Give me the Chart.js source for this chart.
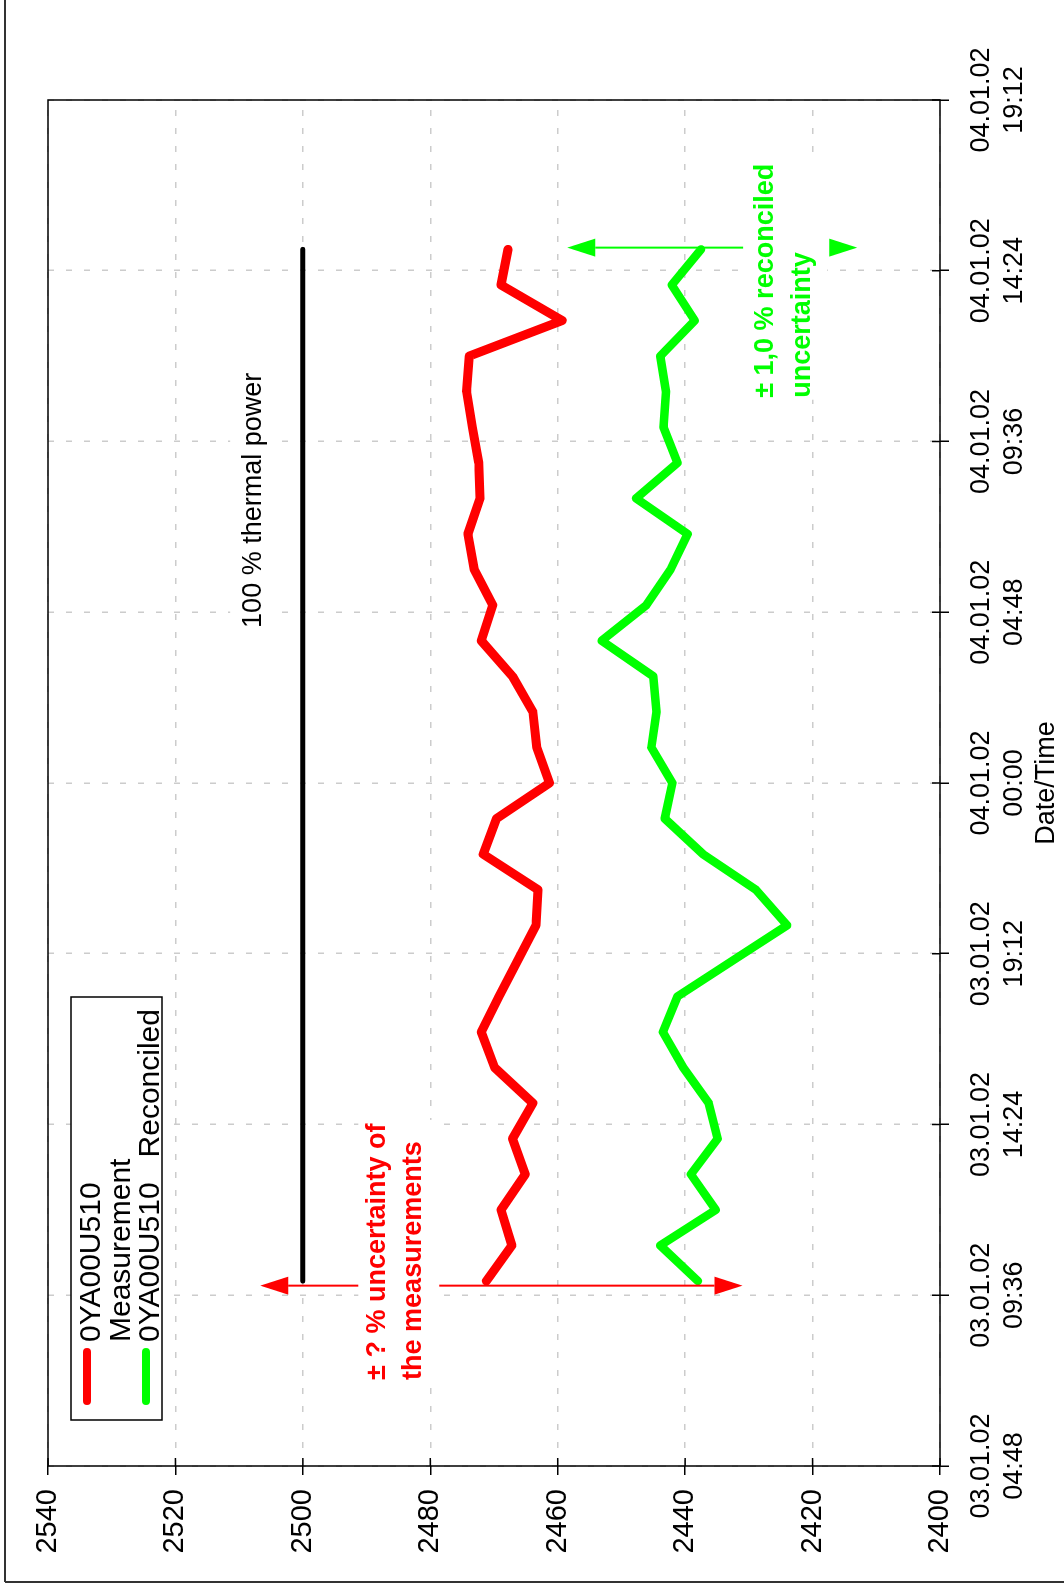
<!DOCTYPE html>
<html>
<head>
<meta charset="utf-8">
<script src="https://cdn.jsdelivr.net/npm/chart.js@4.4.1/dist/chart.umd.min.js"></script>
<style>
html, body { margin: 0; padding: 0; background: #fff; overflow: hidden; width: 1064px; height: 1590px; }
#wrap { position: absolute; left: 0; top: 0; width: 1590px; height: 1064px;
  transform-origin: 0 0; transform: translate(0, 1590px) rotate(-90deg); }
</style>
</head>
<body>
<div id="wrap"><canvas id="power-chart" width="1590" height="1064"></canvas></div>
<script>
// hourly samples 03.01.02 10:00 .. 04.01.02 15:00
var sampleTimes = [
  "03.01 10:00", "03.01 11:00", "03.01 12:00", "03.01 13:00", "03.01 14:00",
  "03.01 15:00", "03.01 16:00", "03.01 17:00", "03.01 18:00", "03.01 19:00",
  "03.01 20:00", "03.01 21:00", "03.01 22:00", "03.01 23:00", "04.01 00:00",
  "04.01 01:00", "04.01 02:00", "04.01 03:00", "04.01 04:00", "04.01 05:00",
  "04.01 06:00", "04.01 07:00", "04.01 08:00", "04.01 09:00", "04.01 10:00",
  "04.01 11:00", "04.01 12:00", "04.01 13:00", "04.01 14:00", "04.01 15:00"
];
var measured = [
  2471.2, 2467.2, 2468.9, 2465.1, 2467.1, 2463.9, 2469.9, 2472.0, 2469.2, 2466.3,
  2463.4, 2463.1, 2471.7, 2469.6, 2461.3, 2463.3, 2463.9, 2467.1, 2472.0, 2470.2,
  2473.1, 2474.1, 2472.2, 2472.4, 2473.4, 2474.3, 2473.9, 2459.3, 2468.9, 2467.8
];
var reconciled = [
  2438.0, 2443.9, 2435.2, 2439.1, 2434.9, 2436.3, 2440.3, 2443.5, 2441.2, 2432.6,
  2424.0, 2428.9, 2437.2, 2443.2, 2442.0, 2445.3, 2444.5, 2445.0, 2453.1, 2446.1,
  2442.3, 2439.6, 2447.7, 2441.2, 2443.4, 2443.0, 2443.9, 2438.5, 2442.1, 2437.5
];
var thermalTimes = ["03.01 10:00", "04.01 15:00"];
var thermalValues = [2500, 2500];

var tickDates = ["03.01.02", "03.01.02", "03.01.02", "03.01.02", "04.01.02", "04.01.02", "04.01.02", "04.01.02", "04.01.02"];
var tickTimes = ["04:48", "09:36", "14:24", "19:12", "00:00", "04:48", "09:36", "14:24", "19:12"];
var valueTicks = [2400, 2420, 2440, 2460, 2480, 2500, 2520, 2540];

// hours since 03.01.02 04:48
function toHours(s) {
  var day = parseInt(s.slice(0, 2), 10);
  var hh = parseInt(s.slice(6, 8), 10), mm = parseInt(s.slice(9, 11), 10);
  return (day - 3) * 24 + hh + mm / 60 - 4.8;
}
function pts(times, vals) {
  return times.map(function (t, i) { return { x: toHours(t), y: vals[i] }; });
}
var tickHours = tickTimes.map(function (t, i) { return toHours(tickDates[i].slice(0, 5) + " " + t); });

var FONT = "'Liberation Sans', Arial, sans-serif";
Chart.defaults.font.family = FONT;
Chart.defaults.color = "#000";

function line(ctx, x1, y1, x2, y2) {
  ctx.beginPath(); ctx.moveTo(x1, y1); ctx.lineTo(x2, y2); ctx.stroke();
}
function head(ctx, x, tipY, dir) { // vertical arrow head, dir -1 = up
  ctx.beginPath();
  ctx.moveTo(x, tipY);
  ctx.lineTo(x - 9, tipY - dir * 28);
  ctx.lineTo(x + 9, tipY - dir * 28);
  ctx.closePath(); ctx.fill();
}

var extras = {
  id: "extras",
  afterDraw: function (chart) {
    var ctx = chart.ctx, a = chart.chartArea;
    var xs = chart.scales.x, ys = chart.scales.y;
    ctx.save();
    ctx.setLineDash([]);

    // plot frame + inner ticks
    ctx.strokeStyle = "#000"; ctx.lineWidth = 1.5;
    ctx.strokeRect(a.left, a.top, a.right - a.left, a.bottom - a.top);
    tickHours.forEach(function (h) { var p = xs.getPixelForValue(h); line(ctx, p, a.bottom, p, a.bottom - 8); });
    valueTicks.forEach(function (v) { var p = ys.getPixelForValue(v); line(ctx, a.left, p, a.left + 8, p); });

    // outer frame
    ctx.strokeStyle = "#333"; ctx.lineWidth = 2;
    line(ctx, 8, 5, 8, 1064);
    line(ctx, 8, 5, 1590, 5);

    // red uncertainty arrow
    var rx = xs.getPixelForValue(5.07);
    var rTop = ys.getPixelForValue(2506.7), rBot = ys.getPixelForValue(2431.0);
    ctx.fillStyle = "#fff";
    ctx.fillRect(xs.getPixelForValue(2.42) - 2, ys.getPixelForValue(2491.3), 262, ys.getPixelForValue(2478.6) - ys.getPixelForValue(2491.3));
    ctx.strokeStyle = "#ff0000"; ctx.fillStyle = "#ff0000"; ctx.lineWidth = 2;
    line(ctx, rx, rTop + 28, rx, ys.getPixelForValue(2491.3));
    line(ctx, rx, ys.getPixelForValue(2478.6), rx, rBot - 28);
    head(ctx, rx, rTop, -1);
    head(ctx, rx, rBot, 1);
    ctx.font = "bold 27px " + FONT;
    ctx.textAlign = "left"; ctx.textBaseline = "middle";
    ctx.fillText("\u00b1 ? % uncertainty of", xs.getPixelForValue(2.42), ys.getPixelForValue(2488.2));
    ctx.fillText("the measurements", xs.getPixelForValue(2.42), ys.getPixelForValue(2482.7));

    // green uncertainty arrow
    var gx = xs.getPixelForValue(34.25);
    var gTop = ys.getPixelForValue(2458.5), gBot = ys.getPixelForValue(2413.0);
    ctx.fillStyle = "#fff";
    ctx.fillRect(xs.getPixelForValue(30.03) - 2, ys.getPixelForValue(2430.9), 240, ys.getPixelForValue(2417.7) - ys.getPixelForValue(2430.9));
    ctx.strokeStyle = "#00ff00"; ctx.fillStyle = "#00ff00"; ctx.lineWidth = 2;
    line(ctx, gx, gTop + 28, gx, ys.getPixelForValue(2430.9));
    head(ctx, gx, gTop, -1);
    head(ctx, gx, gBot, 1);
    ctx.fillText("\u00b1 1,0 % reconciled", xs.getPixelForValue(30.03), ys.getPixelForValue(2427.4));
    ctx.fillText("uncertainty", xs.getPixelForValue(30.03), ys.getPixelForValue(2421.6));

    // thermal power label
    ctx.font = "27px " + FONT;
    var tx = xs.getPixelForValue(23.56), ty = ys.getPixelForValue(2507.8);
    ctx.fillStyle = "#fff";
    ctx.fillRect(tx - 4, ty - 23, 268, 46);
    ctx.fillStyle = "#000";
    ctx.fillText("100 % thermal power", tx, ty);

    // legend box
    ctx.fillStyle = "#fff"; ctx.fillRect(170, 71, 423, 91);
    ctx.strokeStyle = "#000"; ctx.lineWidth = 1.5; ctx.strokeRect(170, 71, 423, 91);
    ctx.lineCap = "round"; ctx.lineWidth = 8;
    ctx.strokeStyle = "#ff0000"; line(ctx, 189, 87, 238, 87);
    ctx.strokeStyle = "#00ff00"; line(ctx, 189, 146, 238, 146);
    ctx.fillStyle = "#000"; ctx.font = "30px " + FONT;
    ctx.fillText("0YA00U510", 248, 92);
    ctx.fillText("Measurement", 248, 122);
    ctx.fillText("0YA00U510   Reconciled", 248, 151);
    ctx.restore();
  }
};

var gridOpts = { color: "#cccccc", lineWidth: 1.5, tickColor: "#000", tickWidth: 1.5, tickLength: 9, tickBorderDash: [] };

var config = {
  type: "line",
  data: {
    datasets: [
      { label: "100 % thermal power", data: pts(thermalTimes, thermalValues), borderColor: "#000", borderWidth: 5 },
      { label: "0YA00U510 Measurement", data: pts(sampleTimes, measured), borderColor: "#ff0000", borderWidth: 9 },
      { label: "0YA00U510 Reconciled", data: pts(sampleTimes, reconciled), borderColor: "#00ff00", borderWidth: 8.5 }
    ]
  },
  options: {
    responsive: false,
    animation: false,
    devicePixelRatio: 1,
    layout: { padding: { left: 0, top: 48, right: 100, bottom: 0 } },
    elements: {
      point: { radius: 0 },
      line: { tension: 0, borderCapStyle: "round", borderJoinStyle: "round", fill: false }
    },
    plugins: { legend: { display: false }, tooltip: { enabled: false } },
    scales: {
      x: {
        type: "linear", min: 0, max: 38.4,
        afterBuildTicks: function (s) { s.ticks = tickHours.map(function (h) { return { value: h }; }); },
        afterFit: function (s) { s.height = 124; },
        ticks: {
          autoSkip: false, maxRotation: 0, padding: 16, color: "#000",
          font: { size: 27, lineHeight: 1.22 },
          callback: function (v, i) { return [tickDates[i], tickTimes[i]]; }
        },
        grid: gridOpts,
        border: { display: false, dash: [6, 12] },
        title: { display: true, text: "Date/Time", color: "#000", font: { size: 27 }, padding: { top: 0, bottom: 1 } }
      },
      y: {
        min: 2400, max: 2540,
        afterBuildTicks: function (s) { s.ticks = valueTicks.map(function (v) { return { value: v }; }); },
        afterFit: function (s) { s.width = 124; },
        ticks: { padding: 14, color: "#000", font: { size: 29 },
          callback: function (v) { return String(v); } },
        grid: gridOpts,
        border: { display: false, dash: [6, 12] }
      }
    }
  },
  plugins: [extras]
};

var chart = new Chart(document.getElementById("power-chart").getContext("2d"), config);
</script>
</body>
</html>
